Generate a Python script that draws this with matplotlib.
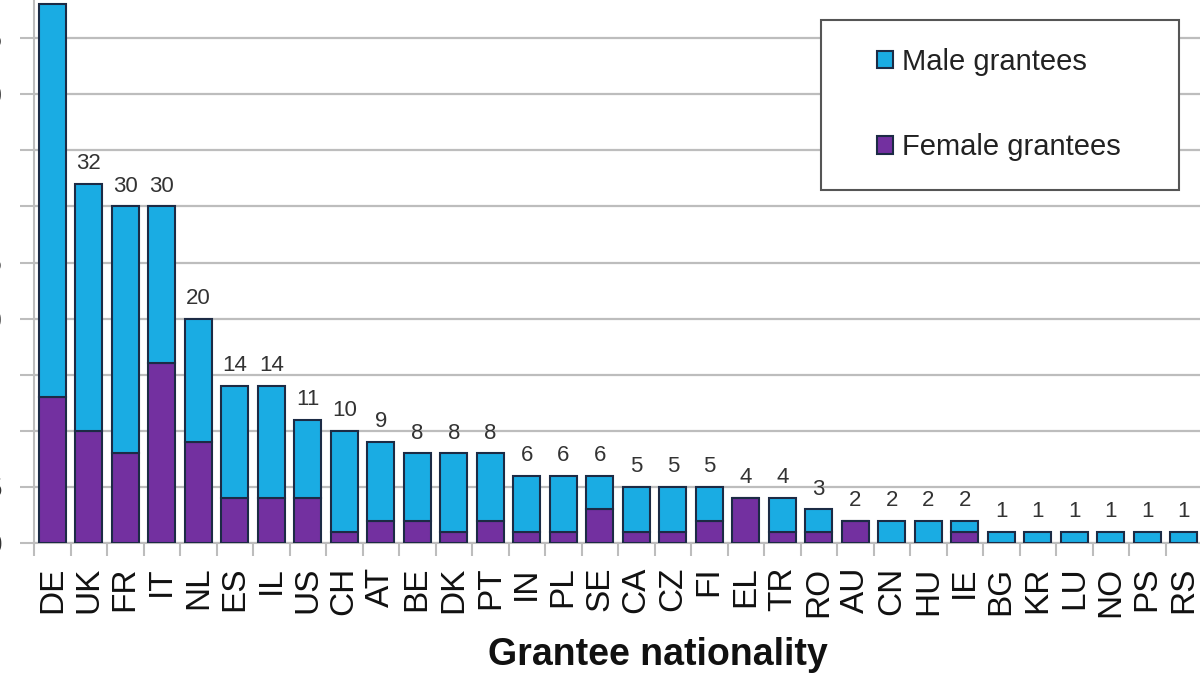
import numpy as np
import matplotlib.pyplot as plt
from matplotlib.patches import Patch, Rectangle

plt.rcParams['font.family'] = ['Liberation Sans', 'DejaVu Sans']

# Grantees per nationality
countries = ['DE', 'UK', 'FR', 'IT', 'NL', 'ES', 'IL', 'US', 'CH', 'AT', 'BE', 'DK',
             'PT', 'IN', 'PL', 'SE', 'CA', 'CZ', 'FI', 'EL', 'TR', 'RO', 'AU', 'CN',
             'HU', 'IE', 'BG', 'KR', 'LU', 'NO', 'PS', 'RS']
totals = [48, 32, 30, 30, 20, 14, 14, 11, 10, 9, 8, 8,
          8, 6, 6, 6, 5, 5, 5, 4, 4, 3, 2, 2,
          2, 2, 1, 1, 1, 1, 1, 1]
female = [13, 10, 8, 16, 9, 4, 4, 4, 1, 2, 2, 1,
          2, 1, 1, 3, 1, 1, 2, 4, 1, 1, 2, 0,
          0, 1, 0, 0, 0, 0, 0, 0]
male = [t - f for t, f in zip(totals, female)]
yticks = list(range(0, 50, 5))

male_color = '#1AACE3'
female_color = '#7330A0'
edge = '#1C2B45'
grid_grey = '#BDBDBD'

fig = plt.figure(figsize=(12, 6.75), dpi=100)
# axes deliberately extends beyond the top of the figure (cropped look)
ax = fig.add_axes([34 / 1200, 132 / 675, 1168 / 1200, 561 / 675])

x = np.arange(len(countries))
ax.bar(x, female, width=0.75, color=female_color, edgecolor=edge, linewidth=1.5, zorder=3)
bars_m = ax.bar(x, male, bottom=female, width=0.75, color=male_color, edgecolor=edge,
                linewidth=1.5, zorder=3)
ax.bar_label(bars_m, labels=[str(t) for t in totals], padding=7, fontsize=16, color='#333333')

ax.set_xlim(-0.5, len(countries) - 0.5)
ax.set_ylim(0, 50)
ax.set_yticks(yticks)
ax.set_yticklabels([str(v) for v in yticks], fontsize=20, color='#333333')
ax.tick_params(axis='y', length=10, width=1.5, color=grid_grey, pad=13)
ax.yaxis.grid(True, color=grid_grey, linewidth=1.6, zorder=0)
ax.set_axisbelow(True)

ax.set_xticks(x)
ax.set_xticklabels(countries, rotation=90, fontsize=24, color='#111111')
ax.tick_params(axis='x', which='major', length=0, pad=17)
ax.set_xticks(np.arange(-0.5, len(countries), 1), minor=True)
ax.tick_params(axis='x', which='minor', length=9, width=1.5, color=grid_grey)

for s in ['top', 'right']:
    ax.spines[s].set_visible(False)
ax.spines['left'].set_color(grid_grey)
ax.spines['left'].set_linewidth(1.5)
ax.spines['bottom'].set_color(grid_grey)
ax.spines['bottom'].set_linewidth(1.5)

fig.text(658 / 1200, 1 - 655 / 675, 'Grantee nationality', ha='center', va='center',
         fontsize=27, fontweight='bold', color='#111111')

# legend box
box = Rectangle((821 / 1200, 1 - 190 / 675), 358 / 1200, 170 / 675, transform=fig.transFigure,
                facecolor='white', edgecolor='#555555', linewidth=1.5, zorder=4)
fig.patches.append(box)

handles = [Patch(facecolor=male_color, edgecolor=edge, linewidth=1.5, label='Male grantees'),
           Patch(facecolor=female_color, edgecolor=edge, linewidth=1.5, label='Female grantees')]
leg = fig.legend(handles=handles, loc='center left',
                 bbox_to_anchor=(877 / 1200, 1 - 104.5 / 675),
                 fontsize=21, frameon=False, borderpad=0,
                 labelspacing=1.98, handlelength=0.55, handleheight=0.55,
                 handletextpad=0.3, borderaxespad=0)
for t in leg.get_texts():
    t.set_color('#222222')
leg.set_zorder(5)

fig.savefig('out.png', dpi=100)
